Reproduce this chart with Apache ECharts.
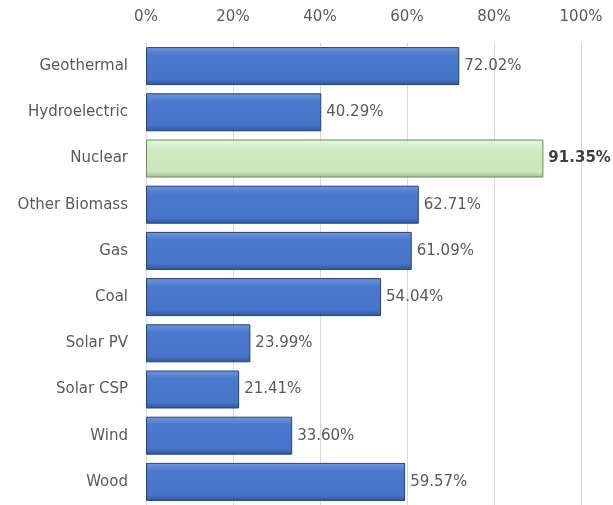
<!DOCTYPE html>
<html><head><meta charset="utf-8">
<script src="https://cdn.jsdelivr.net/npm/echarts@6/dist/echarts.min.js"></script>
<style>html,body{margin:0;padding:0;background:#fff}#c{width:613px;height:505px}</style>
</head><body><div id="c"></div>
<script>
const categories = ["Geothermal","Hydroelectric","Nuclear","Other Biomass","Gas","Coal","Solar PV","Solar CSP","Wind","Wood"];
const values = [72.02, 40.29, 91.35, 62.71, 61.09, 54.04, 23.99, 21.41, 33.60, 59.57];
const highlight = "Nuclear";
const xTicks = [0, 20, 40, 60, 80, 100];

const FONT = 'DejaVu Sans';
const blue = new echarts.graphic.LinearGradient(0,0,0,1,[
  {offset:0,color:'#7097da'},{offset:0.12,color:'#5b86d3'},{offset:0.22,color:'#4a78cc'},
  {offset:0.85,color:'#4574c8'},{offset:1,color:'#2f559a'}]);
const green = new echarts.graphic.LinearGradient(0,0,0,1,[
  {offset:0,color:'#e8f5df'},{offset:0.15,color:'#dbf0cd'},{offset:0.3,color:'#d0eac0'},
  {offset:0.85,color:'#cbe6bb'},{offset:1,color:'#9cb98c'}]);

const data = values.map((v,i)=>{
  const hl = categories[i]===highlight;
  return {
    value: v,
    itemStyle: {color: hl?green:blue, borderColor: hl?'#6f8a60':'#24427a', borderWidth:1},
    label: {fontWeight: hl?'bold':'normal', color: hl?'#404040':'#595959'}
  };
});

const chart = echarts.init(document.getElementById('c'));
chart.setOption({
  animation:false,
  grid:{left:146, right:32, top:43, height:469, containLabel:false},
  xAxis:{type:'value', position:'top', min:xTicks[0], max:xTicks[xTicks.length-1], interval:xTicks[1]-xTicks[0],
    axisLine:{show:false}, axisTick:{show:false},
    axisLabel:{formatter: v=>v+'%', color:'#595959', fontSize:15, fontFamily:FONT, margin:18},
    splitLine:{lineStyle:{color:'#d9d9d9', width:1}}},
  yAxis:{type:'category', data:categories, inverse:true,
    axisLine:{show:false}, axisTick:{show:false},
    axisLabel:{color:'#595959', fontSize:15, fontFamily:FONT, margin:18}},
  series:[{type:'bar', data:data, barWidth:38,
    label:{show:true, position:'right', distance:5, fontSize:15, fontFamily:FONT,
      formatter: p=>p.value.toFixed(2)+'%'}}]
});
</script></body></html>
